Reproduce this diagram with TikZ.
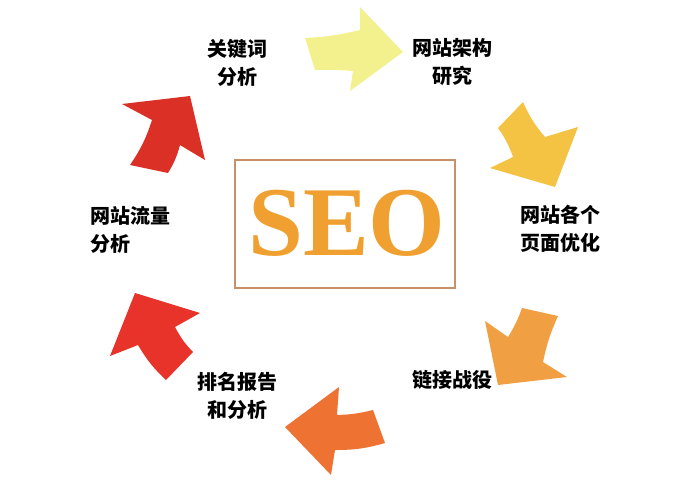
\documentclass[tikz,border=0pt]{standalone}
\usepackage{fontspec}
\setmainfont{Liberation Serif}
\newfontfamily\cjk{Noto Sans CJK SC}
\definecolor{arrowA}{HTML}{F3F18E}
\definecolor{arrowB}{HTML}{F5C343}
\definecolor{arrowC}{HTML}{F0A042}
\definecolor{arrowD}{HTML}{EE7232}
\definecolor{arrowE}{HTML}{E8332A}
\definecolor{arrowF}{HTML}{DA3026}
\definecolor{seoorange}{HTML}{F0A030}
\definecolor{boxline}{HTML}{C8906A}
\tikzset{steptext/.style={font=\cjk\bfseries\fontsize{15}{21}\selectfont, align=center}}

\begin{document}
\begin{tikzpicture}[x=0.75pt,y=0.75pt,yscale=-1,xscale=1]
\useasboundingbox (0,0) rectangle (681,482);

%Shape: Arrow (right)
\fill [arrowA] (305,38) to[bend left=5] (360,30) -- (360,7) -- (403,52) -- (350,91) -- (353,71) to[bend left=3] (315,70) -- cycle ;
%Shape: Arrow (down)
\fill [arrowB] (523,102) to[bend left=8] (545,137) -- (578,127) -- (555,187) -- (490,168) -- (513,157) to[bend left=8] (498,128) -- cycle ;
%Shape: Arrow (down left)
\fill [arrowC] (522,308) -- (558,316) to[bend left=6] (543,362) -- (567,377) -- (498,385) -- (485,321) -- (508,337) to[bend left=6] (522,308) -- cycle ;
%Shape: Arrow (left)
\fill [arrowD] (285,427) -- (339,387) -- (337,415) to[bend left=6] (373,410) -- (385,443) to[bend right=8] (335,450) -- (331,475) -- cycle ;
%Shape: Arrow (up left)
\fill [arrowE] (135,293) -- (200,313) -- (175,327) to[bend left=8] (193,352) -- (166,380) to[bend right=8] (138,345) -- (110,356) -- cycle ;
%Shape: Arrow (up right)
\fill [arrowF] (190,96) -- (205,160) -- (180,145) to[bend right=8] (168,173) -- (130,165) to[bend left=8] (152,120) -- (122,104) -- cycle ;

%Shape: Rectangle
\draw [boxline, line width=0.8] (235,160) -- (455,160) -- (455,288) -- (235,288) -- cycle ;

% Text Node
\draw (347,223) node (seo) [text=seoorange, font=\bfseries\fontsize{74}{74}\selectfont] {SEO};
% Text Node
\draw (237,63) node (keyword) [steptext] {关键词\\分析};
% Text Node
\draw (452,62) node (structure) [steptext] {网站架构\\研究};
% Text Node
\draw (560,229) node (pages) [steptext] {网站各个\\页面优化};
% Text Node
\draw (452,380) node (links) [steptext] {链接战役};
% Text Node
\draw (237,396) node (ranking) [steptext] {排名报告\\和分析};
% Text Node
\draw (86,230) node (traffic) [steptext, anchor=west, align=left] {网站流量\\分析};

\end{tikzpicture}
\end{document}
